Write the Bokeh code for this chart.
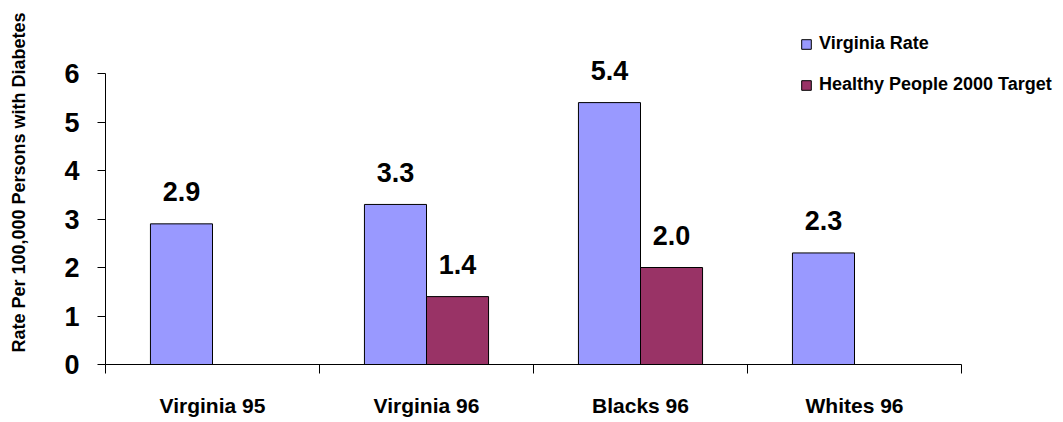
import numpy as np
from bokeh.plotting import figure
from bokeh.models import (ColumnDataSource, Range1d, FixedTicker, Legend, LegendItem)
from bokeh.core.properties import value
from bokeh.embed import file_html
from bokeh.resources import INLINE

# ---- data ----
categories = ["Virginia 95", "Virginia 96", "Blacks 96", "Whites 96"]
virginia_rate = [2.9, 3.3, 5.4, 2.3]
hp2000_target = [None, 1.4, 2.0, None]
y_ticks = [0, 1, 2, 3, 4, 5, 6]
y_label = "Rate Per 100,000 Persons with Diabetes"

BLUE = "#9999FF"
MAROON = "#993366"
FONT = "Liberation Sans"

# layout (pixels)
W, H = 1063, 422
LEFT, BOTTOM = 105, 58
AXIS_TOP_PX = 73      # where the value 6 sits
AXIS_RIGHT_PX = 961   # where the category axis ends

n = len(categories)
y_max_axis = max(y_ticks)
frame_h = H - BOTTOM
frame_w = W - LEFT
y_top = y_max_axis * frame_h / (frame_h - AXIS_TOP_PX)
x_right = n * frame_w / (AXIS_RIGHT_PX - LEFT)

centers = np.arange(n) + 0.5
off = 0.145
bw = 0.29

src_a = ColumnDataSource(dict(
    x=[c - off for c in centers],
    top=virginia_rate,
    lab=[f"{v:.1f}" for v in virginia_rate],
))
idx_b = [i for i, v in enumerate(hp2000_target) if v is not None]
src_b = ColumnDataSource(dict(
    x=[centers[i] + off for i in idx_b],
    top=[hp2000_target[i] for i in idx_b],
    lab=[f"{hp2000_target[i]:.1f}" for i in idx_b],
))

p = figure(width=W, height=H, output_backend="svg", toolbar_location=None,
           x_range=Range1d(0, x_right), y_range=Range1d(0, y_top),
           min_border_left=LEFT, min_border_right=0, min_border_top=0, min_border_bottom=BOTTOM)
p.outline_line_color = None
p.grid.visible = False
p.background_fill_color = "white"
p.border_fill_color = "white"

ra = p.vbar(x="x", top="top", width=bw, source=src_a, fill_color=BLUE, line_color="black", line_width=1)
rb = p.vbar(x="x", top="top", width=bw, source=src_b, fill_color=MAROON, line_color="black", line_width=1)

for s in (src_a, src_b):
    p.text(x="x", y="top", text="lab", source=s, text_align="center", text_baseline="alphabetic",
           y_offset=-32, text_font=value(FONT), text_font_style="bold", text_font_size="27px",
           text_color="black")

# axes
xa = p.xaxis[0]
xa.bounds = (0, n)
xa.ticker = FixedTicker(ticks=list(centers), minor_ticks=list(range(n + 1)))
xa.major_label_overrides = {float(c): name for c, name in zip(centers, categories)}
xa.major_tick_out = 0
xa.major_tick_in = 0
xa.minor_tick_out = 9
xa.minor_tick_in = 0
xa.major_label_standoff = 20
xa.major_label_text_font = FONT
xa.major_label_text_font_style = "bold"
xa.major_label_text_font_size = "21px"
xa.major_label_text_color = "black"
xa.axis_line_color = "black"
xa.minor_tick_line_color = "black"

ya = p.yaxis[0]
ya.bounds = (0, y_max_axis)
ya.ticker = FixedTicker(ticks=y_ticks)
ya.major_tick_out = 8
ya.major_tick_in = 0
ya.minor_tick_line_color = None
ya.major_label_standoff = 18
ya.major_label_text_font = FONT
ya.major_label_text_font_style = "bold"
ya.major_label_text_font_size = "27px"
ya.major_label_text_color = "black"
ya.axis_line_color = "black"
ya.major_tick_line_color = "black"
ya.axis_label = y_label
ya.axis_label_text_font = FONT
ya.axis_label_text_font_style = "bold"
ya.axis_label_text_font_size = "18px"
ya.axis_label_standoff = 32
ya.axis_label_text_color = "black"

legend = Legend(items=[LegendItem(label="Virginia Rate", renderers=[ra]),
                       LegendItem(label="Healthy People 2000 Target", renderers=[rb])],
                location=(695, 269), glyph_width=12, glyph_height=12, label_height=20,
                spacing=20, padding=0, margin=0, label_standoff=7,
                border_line_color=None, background_fill_alpha=0,
                label_text_font=FONT, label_text_font_style="bold",
                label_text_font_size="18px", label_text_color="black")
p.add_layout(legend, "center")

open("out.html", "w").write(file_html(p, INLINE))
